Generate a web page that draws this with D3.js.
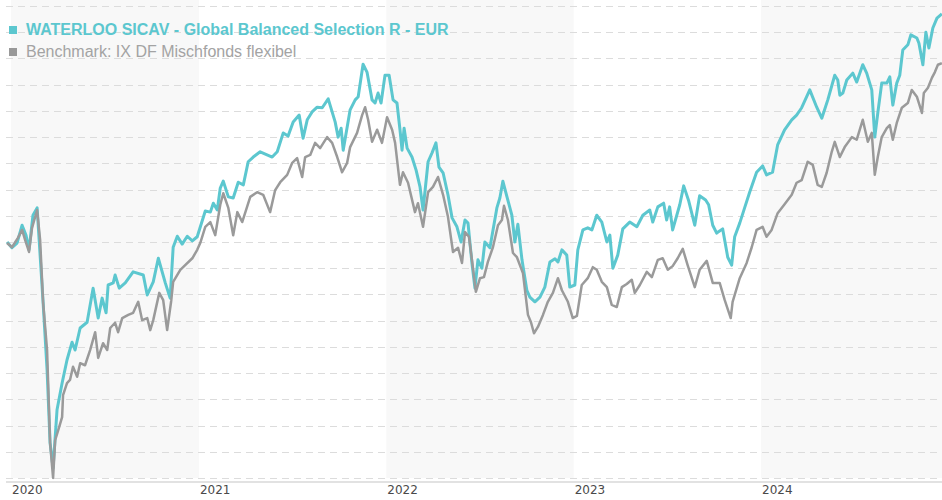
<!DOCTYPE html>
<html>
<head>
<meta charset="utf-8">
<script src="https://cdn.jsdelivr.net/npm/d3@7"></script>
<style>
  html, body { margin: 0; padding: 0; background: #fff; }
  svg { display: block; font-family: "Liberation Sans", Arial, sans-serif; }
</style>
</head>
<body>
<svg width="942" height="500"></svg>
<script>
// fonds et benchmark, indexé (100 au départ), date en année décimale
const fund = [
  [2019.979,100.0],[2020.005,98.9],[2020.032,99.8],[2020.059,103.2],[2020.080,101.3],[2020.096,98.5],
  [2020.117,105.1],[2020.139,106.5],[2020.171,88.4],[2020.192,75.6],[2020.208,61.7],[2020.224,56.9],
  [2020.245,68.0],[2020.272,73.1],[2020.298,77.5],[2020.325,80.9],[2020.341,79.4],[2020.368,83.6],
  [2020.405,84.7],[2020.437,91.2],[2020.464,85.5],[2020.485,89.3],[2020.506,86.5],[2020.517,91.8],
  [2020.544,92.2],[2020.554,93.7],[2020.576,91.2],[2020.608,92.2],[2020.650,94.3],[2020.704,93.7],
  [2020.725,89.9],[2020.757,92.4],[2020.784,96.9],[2020.821,92.2],[2020.847,89.3],[2020.863,99.0],
  [2020.885,101.1],[2020.911,99.6],[2020.938,101.1],[2020.965,100.2],[2020.991,101.0],[2021.034,105.9],
  [2021.061,105.7],[2021.077,107.4],[2021.098,106.1],[2021.114,110.3],[2021.130,111.6],[2021.157,108.6],
  [2021.183,108.4],[2021.210,111.4],[2021.237,110.9],[2021.263,115.3],[2021.290,116.2],[2021.327,117.2],
  [2021.391,116.2],[2021.418,117.2],[2021.450,120.8],[2021.476,120.2],[2021.503,122.9],[2021.535,124.2],
  [2021.556,119.8],[2021.578,123.3],[2021.604,124.8],[2021.631,125.7],[2021.658,125.6],[2021.690,127.3],
  [2021.727,122.9],[2021.743,120.0],[2021.759,121.7],[2021.770,117.5],[2021.807,125.2],[2021.834,127.1],
  [2021.850,127.7],[2021.876,133.9],[2021.897,132.4],[2021.924,127.1],[2021.940,126.5],[2021.956,128.4],
  [2021.972,126.5],[2021.993,131.8],[2022.015,131.8],[2022.036,127.1],[2022.057,126.5],[2022.073,121.4],
  [2022.084,117.5],[2022.095,121.7],[2022.111,117.9],[2022.137,116.2],[2022.159,113.7],[2022.180,110.5],
  [2022.196,106.1],[2022.223,115.3],[2022.244,117.0],[2022.265,118.9],[2022.281,114.3],[2022.303,113.2],
  [2022.329,109.0],[2022.351,104.6],[2022.377,102.9],[2022.399,100.0],[2022.420,104.2],[2022.436,103.6],
  [2022.457,96.0],[2022.473,91.2],[2022.489,96.6],[2022.510,95.0],[2022.526,100.0],[2022.553,98.9],
  [2022.590,106.5],[2022.606,108.4],[2022.622,111.6],[2022.644,108.6],[2022.670,105.1],[2022.686,100.0],
  [2022.702,103.4],[2022.724,96.6],[2022.750,90.8],[2022.766,89.5],[2022.793,88.6],[2022.820,89.5],
  [2022.846,91.4],[2022.873,96.2],[2022.900,96.8],[2022.916,96.2],[2022.937,98.5],[2022.963,97.5],
  [2022.979,91.4],[2023.006,91.8],[2023.022,98.5],[2023.049,102.3],[2023.075,102.7],[2023.097,102.3],
  [2023.123,105.1],[2023.150,103.8],[2023.177,100.0],[2023.193,101.3],[2023.209,95.0],[2023.235,97.5],
  [2023.262,102.5],[2023.299,103.8],[2023.337,102.9],[2023.369,105.1],[2023.406,106.1],[2023.422,103.8],
  [2023.449,106.7],[2023.480,107.4],[2023.496,104.2],[2023.512,106.7],[2023.528,102.3],[2023.566,107.1],
  [2023.587,110.7],[2023.614,107.8],[2023.646,103.2],[2023.672,108.8],[2023.704,108.0],[2023.720,107.1],
  [2023.742,103.2],[2023.763,101.7],[2023.795,102.5],[2023.822,97.1],[2023.843,95.6],[2023.859,101.0],
  [2023.886,103.6],[2023.912,106.5],[2023.939,109.5],[2023.976,113.3],[2024.008,114.5],[2024.029,112.8],
  [2024.061,113.3],[2024.088,118.5],[2024.125,121.4],[2024.163,123.3],[2024.189,124.2],[2024.216,125.6],
  [2024.259,129.0],[2024.296,125.7],[2024.323,123.6],[2024.355,127.1],[2024.392,131.8],[2024.408,130.9],
  [2024.419,128.0],[2024.435,128.4],[2024.456,130.9],[2024.488,132.2],[2024.509,130.5],[2024.541,133.8],
  [2024.562,132.2],[2024.589,129.0],[2024.605,120.0],[2024.621,124.6],[2024.642,130.3],[2024.669,130.3],
  [2024.685,131.5],[2024.701,126.1],[2024.722,130.3],[2024.738,131.8],[2024.754,136.6],[2024.781,137.6],
  [2024.797,139.5],[2024.829,138.9],[2024.840,137.9],[2024.861,133.8],[2024.877,140.0],[2024.893,137.0],
  [2024.914,140.8],[2024.936,142.7],[2024.962,143.5]
];

const benchmark = [
  [2019.979,99.8],[2020.005,99.0],[2020.037,100.8],[2020.059,102.3],[2020.075,100.4],[2020.096,98.1],
  [2020.112,102.7],[2020.139,106.1],[2020.155,100.4],[2020.171,88.4],[2020.192,79.4],[2020.208,61.7],
  [2020.224,55.0],[2020.235,62.2],[2020.251,64.1],[2020.272,66.6],[2020.277,70.8],[2020.298,73.1],
  [2020.314,73.7],[2020.330,76.2],[2020.352,74.3],[2020.368,76.9],[2020.394,76.5],[2020.421,79.4],
  [2020.448,82.8],[2020.464,77.9],[2020.490,80.7],[2020.512,79.4],[2020.528,83.6],[2020.554,84.6],
  [2020.570,82.8],[2020.592,85.5],[2020.624,86.1],[2020.650,86.5],[2020.677,88.6],[2020.698,85.1],
  [2020.725,85.5],[2020.741,83.2],[2020.757,85.1],[2020.789,90.3],[2020.810,88.9],[2020.831,83.2],
  [2020.853,88.9],[2020.863,92.4],[2020.901,94.7],[2020.927,95.6],[2020.965,96.9],[2020.991,98.5],
  [2021.007,99.8],[2021.034,102.9],[2021.061,103.8],[2021.087,101.3],[2021.114,107.1],[2021.130,109.3],
  [2021.157,106.5],[2021.183,101.3],[2021.205,105.7],[2021.231,103.8],[2021.274,108.6],[2021.311,109.5],
  [2021.343,109.0],[2021.380,105.7],[2021.407,109.9],[2021.434,111.4],[2021.471,112.8],[2021.498,115.1],
  [2021.524,116.0],[2021.551,112.4],[2021.567,116.2],[2021.594,116.6],[2021.620,118.9],[2021.647,117.9],
  [2021.684,120.0],[2021.711,118.9],[2021.738,116.2],[2021.764,113.3],[2021.791,115.1],[2021.807,118.1],
  [2021.844,120.8],[2021.871,124.2],[2021.887,125.7],[2021.903,123.3],[2021.924,119.1],[2021.951,121.4],
  [2021.977,118.9],[2022.004,123.8],[2022.031,121.4],[2022.047,118.9],[2022.073,110.9],[2022.089,113.3],
  [2022.116,111.3],[2022.153,105.7],[2022.169,107.4],[2022.196,102.9],[2022.223,109.5],[2022.249,110.5],
  [2022.276,112.4],[2022.303,109.0],[2022.329,104.8],[2022.356,98.1],[2022.383,98.9],[2022.404,96.0],
  [2022.420,101.9],[2022.441,101.0],[2022.457,96.6],[2022.478,90.5],[2022.500,93.1],[2022.521,93.3],
  [2022.542,96.2],[2022.569,99.0],[2022.596,103.2],[2022.617,104.2],[2022.628,106.9],[2022.649,104.2],
  [2022.676,97.9],[2022.697,97.1],[2022.729,94.1],[2022.756,86.1],[2022.772,84.7],[2022.788,82.6],
  [2022.809,83.8],[2022.836,86.1],[2022.862,88.6],[2022.889,90.3],[2022.916,93.1],[2022.937,90.8],
  [2022.969,88.6],[2022.995,85.5],[2023.017,85.9],[2023.043,91.8],[2023.075,93.1],[2023.102,95.2],
  [2023.123,94.7],[2023.150,92.4],[2023.177,91.4],[2023.203,88.0],[2023.230,87.6],[2023.257,91.4],
  [2023.283,92.0],[2023.310,92.8],[2023.326,90.3],[2023.353,91.8],[2023.390,94.3],[2023.417,93.3],
  [2023.449,96.6],[2023.475,96.9],[2023.502,94.7],[2023.528,95.4],[2023.555,96.9],[2023.582,98.7],
  [2023.608,95.6],[2023.646,91.4],[2023.672,94.7],[2023.710,96.4],[2023.742,92.2],[2023.779,92.2],
  [2023.806,88.9],[2023.838,85.5],[2023.848,88.6],[2023.886,93.1],[2023.923,96.0],[2023.950,99.0],
  [2023.976,102.3],[2024.008,102.9],[2024.029,101.0],[2024.056,102.3],[2024.088,105.5],[2024.125,107.2],
  [2024.163,109.0],[2024.189,111.3],[2024.216,111.8],[2024.248,115.3],[2024.275,114.7],[2024.301,110.9],
  [2024.323,110.5],[2024.349,113.2],[2024.376,117.2],[2024.392,119.1],[2024.419,116.2],[2024.445,118.1],
  [2024.483,120.0],[2024.509,119.5],[2024.541,123.3],[2024.568,119.1],[2024.589,120.8],[2024.605,112.8],
  [2024.621,116.2],[2024.642,120.0],[2024.669,121.7],[2024.685,122.3],[2024.701,119.5],[2024.722,122.7],
  [2024.749,125.6],[2024.781,126.5],[2024.802,129.0],[2024.829,127.7],[2024.856,124.6],[2024.866,128.4],
  [2024.888,129.4],[2024.909,131.3],[2024.925,132.4],[2024.941,133.8],[2024.962,134.1]
];

const yearTicks = [2020, 2021, 2022, 2023, 2024];
const legendLabels = ["WATERLOO SICAV - Global Balanced Selection R - EUR", "Benchmark: IX DF Mischfonds flexibel"];

// couleurs
const teal = "#5cc7cf";
const grey = "#9a9a9a";

// année décimale -> date
function toDate(t) {
  const yr = Math.floor(t);
  const a = Date.UTC(yr, 0, 1), b = Date.UTC(yr + 1, 0, 1);
  return new Date(a + (t - yr) * (b - a));
}

const svg = d3.select("svg");
const plotLeft = 6, plotRight = 942, plotTop = 6, plotBottom = 478;

const x = d3.scaleUtc()
  .domain([new Date(Date.UTC(2020, 0, 1)), new Date(Date.UTC(2025, 0, 1))])
  .range([11, 949]);

const y = d3.scaleLinear()
  .domain([55, 145])
  .range([plotBottom, plotTop]);

const yearStart = d => x(new Date(Date.UTC(d, 0, 1)));

// bandes annuelles grisées
svg.append("g")
  .selectAll("rect")
  .data(yearTicks.filter((d, i) => i % 2 === 0))
  .join("rect")
  .attr("x", d => yearStart(d))
  .attr("y", 0)
  .attr("width", d => Math.min(plotRight, yearStart(d + 1)) - yearStart(d))
  .attr("height", plotBottom)
  .attr("fill", "#f8f8f8");

// lignes horizontales en pointillés
svg.append("g")
  .selectAll("line")
  .data(y.ticks(18))
  .join("line")
  .attr("x1", plotLeft)
  .attr("x2", plotRight)
  .attr("y1", d => Math.round(y(d)) + 0.5)
  .attr("y2", d => Math.round(y(d)) + 0.5)
  .attr("stroke", "#dcdcdc")
  .attr("stroke-width", 1)
  .attr("stroke-dasharray", "7,5");

// axe des x
svg.append("line")
  .attr("x1", plotLeft).attr("x2", plotRight)
  .attr("y1", plotBottom + 4).attr("y2", plotBottom + 4)
  .attr("stroke", "#e2e2e2").attr("stroke-width", 2);

svg.append("g")
  .selectAll("text")
  .data(yearTicks)
  .join("text")
  .attr("x", d => yearStart(d) + 1)
  .attr("y", 494)
  .attr("font-family", "DejaVu Sans, sans-serif")
  .attr("font-size", 12)
  .attr("fill", "#4a4a4a")
  .text(d => d);

// courbes
svg.append("clipPath").attr("id", "clip")
  .append("rect").attr("x", plotLeft).attr("y", 0).attr("width", plotRight - plotLeft).attr("height", 490);

const line = d3.line()
  .x(d => x(toDate(d[0])))
  .y(d => y(d[1]));

const g = svg.append("g").attr("clip-path", "url(#clip)");

g.append("path")
  .datum(fund)
  .attr("fill", "none")
  .attr("stroke", teal)
  .attr("stroke-width", 3)
  .attr("stroke-linejoin", "round")
  .attr("d", line);

g.append("path")
  .datum(benchmark)
  .attr("fill", "none")
  .attr("stroke", grey)
  .attr("stroke-width", 2.5)
  .attr("stroke-linejoin", "round")
  .attr("d", line);

// légende
const legend = svg.append("g");
legendLabels.forEach((lab, i) => {
  const yy = i === 0 ? 35 : 57;
  legend.append("rect")
    .attr("x", 9).attr("y", yy - 9).attr("width", 8).attr("height", 8)
    .attr("fill", i === 0 ? teal : "#999");
  legend.append("text")
    .attr("x", 26).attr("y", yy)
    .attr("font-size", 16)
    .attr("font-weight", i === 0 ? "bold" : "normal")
    .attr("fill", i === 0 ? teal : "#a3a3a3")
    .text(lab);
});
</script>
</body>
</html>
